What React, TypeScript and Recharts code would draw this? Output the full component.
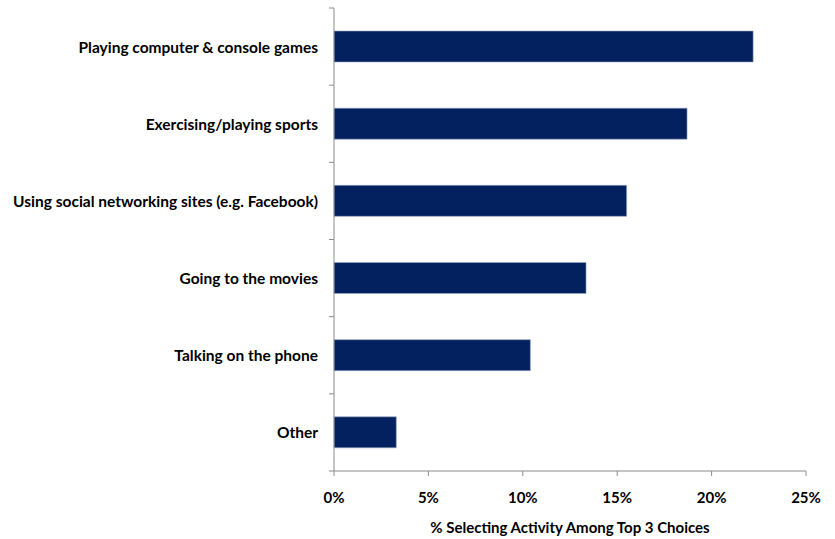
import React from 'react';
import { BarChart, Bar, XAxis, YAxis } from 'recharts';

const activities = [
  'Playing computer & console games',
  'Exercising/playing sports',
  'Using social networking sites (e.g. Facebook)',
  'Going to the movies',
  'Talking on the phone',
  'Other',
];
const shares = [22.2, 18.7, 15.5, 13.35, 10.4, 3.3];
const xTicks = [0, 5, 10, 15, 20, 25];

const data = activities.map((name, i) => ({ name, value: shares[i] }));

const FONT = 'Lato, "Open Sans", sans-serif';
const AXIS = '#8c8c8c';
const PLOT_TOP = 8;
const PLOT_BOTTOM = 471;
const AXIS_X = 334;
const BAND = (PLOT_BOTTOM - PLOT_TOP) / activities.length;

// category label plus a tick mark at the boundary between categories
const CatTick = (props: any) => {
  const { x, y, payload, index } = props;
  return (
    <g>
      <text
        x={x}
        y={y}
        textAnchor="end"
        dominantBaseline="central"
        fill="#000"
        fontSize={15.5}
        fontWeight={700}
        fontFamily={FONT}
      >
        {payload.value}
      </text>
      <line x1={AXIS_X - 5} x2={AXIS_X} y1={y - BAND / 2} y2={y - BAND / 2} stroke={AXIS} />
      {index === activities.length - 1 && (
        <line x1={AXIS_X - 5} x2={AXIS_X} y1={y + BAND / 2} y2={y + BAND / 2} stroke={AXIS} />
      )}
    </g>
  );
};

export default function App() {
  return (
    <div style={{ position: 'absolute', left: 0, top: 0, background: '#fff' }}>
      <BarChart
        width={835}
        height={539}
        data={data}
        layout="vertical"
        margin={{ top: PLOT_TOP, right: 29, bottom: 0, left: 0 }}
        barSize={31}
      >
        <YAxis
          type="category"
          dataKey="name"
          width={AXIS_X}
          axisLine={{ stroke: AXIS }}
          tickLine={false}
          tickSize={0}
          tickMargin={16}
          tick={<CatTick />}
        />
        <XAxis
          type="number"
          domain={[0, 25]}
          ticks={xTicks}
          interval={0}
          height={68}
          axisLine={{ stroke: AXIS }}
          tickLine={{ stroke: AXIS }}
          tickSize={5}
          tickMargin={16}
          tickFormatter={(v: number) => `${v}%`}
          tick={{ fill: '#000', fontSize: 15, fontWeight: 700, fontFamily: FONT }}
          label={{
            value: '% Selecting Activity Among Top 3 Choices',
            position: 'insideBottom',
            offset: 6,
            fill: '#000',
            fontSize: 15,
            fontWeight: 700,
            fontFamily: FONT,
          }}
        />
        <Bar
          dataKey="value"
          fill="#03215E"
          stroke="#9aa8c4"
          strokeWidth={0.6}
          isAnimationActive={false}
        />
      </BarChart>
    </div>
  );
}
